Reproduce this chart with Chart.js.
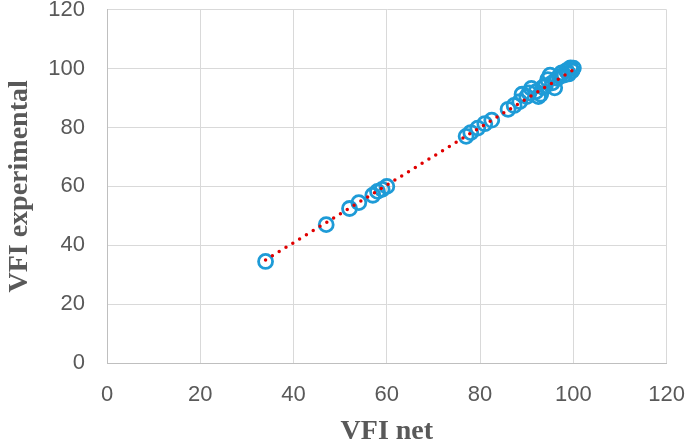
<!DOCTYPE html>
<html>
<head>
<meta charset="utf-8">
<script src="https://cdn.jsdelivr.net/npm/chart.js@4.4.0/dist/chart.umd.min.js"></script>
<style>
  html, body { margin: 0; padding: 0; background: #fff; }
  #wrap { width: 685px; height: 445px; position: relative; }
</style>
</head>
<body>
<div id="wrap"><canvas id="vfiChart"></canvas></div>
<script>
// VFI net (x) vs VFI experimental (y)
const vfiNet = [34, 47, 52, 54, 57, 58, 59, 60,
  77, 78, 79.5, 81, 82.5, 86, 87.3, 88.5, 89, 90, 90.5, 91, 92, 92.5, 93, 93.5,
  94, 94.5, 95, 95.5, 96, 96.5, 97, 97.5, 98, 98.5, 99, 99.4, 99.7, 100];
const vfiExp = [34.5, 47, 52.5, 54.5, 57, 58.3, 59, 60,
  77, 78.3, 79.8, 81.3, 82.5, 86.2, 87.5, 88.8, 91.3, 90.5, 91.8, 93.3, 92.2, 90.5, 91.3, 93.7,
  94.2, 96.3, 97.8, 95.2, 93.5, 96.7, 97.3, 98.6, 97.8, 99.3, 98.2, 100.3, 99.3, 100.2];
// linear trend end points
const trendX = [34, 100];
const trendY = [35, 99.6];
const tickLabels = [0, 20, 40, 60, 80, 100, 120];

window.onload = function () {
  const ctx = document.getElementById('vfiChart').getContext('2d');

  const points = vfiNet.map((x, i) => ({ x: x, y: vfiExp[i] }));
  const trend = trendX.map((x, i) => ({ x: x, y: trendY[i] }));

  const titleFont = { family: 'Liberation Serif', size: 28, weight: 'bold' };

  new Chart(ctx, {
    type: 'scatter',
    data: {
      datasets: [{
        label: 'trend',
        data: trend,
        showLine: true,
        pointRadius: 0,
        borderColor: '#e00000',
        borderWidth: 3.5,
        borderDash: [0, 8],
        borderCapStyle: 'round',
        order: 0
      }, {
        label: 'VFI',
        data: points,
        pointRadius: 7,
        pointBorderWidth: 2.8,
        pointBackgroundColor: 'rgba(0,0,0,0)',
        borderColor: '#1e9bd7',
        order: 1
      }]
    },
    options: {
      responsive: true,
      maintainAspectRatio: false,
      animation: false,
      events: [],
      layout: { padding: { left: 3, top: 9, right: 17, bottom: 0 } },
      plugins: { legend: { display: false }, tooltip: { enabled: false } },
      scales: {
        x: {
          type: 'linear',
          min: tickLabels[0],
          max: tickLabels[tickLabels.length - 1],
          afterBuildTicks: s => { s.ticks = tickLabels.map(v => ({ value: v })); },
          afterFit: s => { s.height = 82; },
          ticks: { color: '#595959', font: { family: 'Liberation Sans', size: 22, lineHeight: 1 }, padding: 0 },
          // invisible tick marks push the labels away from the axis
          grid: { color: '#d9d9d9', drawTicks: true, tickLength: 21, tickColor: 'rgba(0,0,0,0)' },
          border: { color: '#bfbfbf' },
          title: { display: true, text: 'VFI net', color: '#595959', font: titleFont, padding: { top: 0, bottom: -4 } }
        },
        y: {
          type: 'linear',
          min: tickLabels[0],
          max: tickLabels[tickLabels.length - 1],
          afterBuildTicks: s => { s.ticks = tickLabels.map(v => ({ value: v })); },
          afterFit: s => { s.width = 104; },
          ticks: { color: '#595959', font: { family: 'Liberation Sans', size: 22, lineHeight: 0.8 }, padding: 0 },
          grid: { color: '#d9d9d9', drawTicks: true, tickLength: 22, tickColor: 'rgba(0,0,0,0)' },
          border: { color: '#bfbfbf' },
          title: { display: true, text: 'VFI experimental', color: '#595959', font: titleFont, padding: 0 }
        }
      }
    }
  });
};
</script>
</body>
</html>
